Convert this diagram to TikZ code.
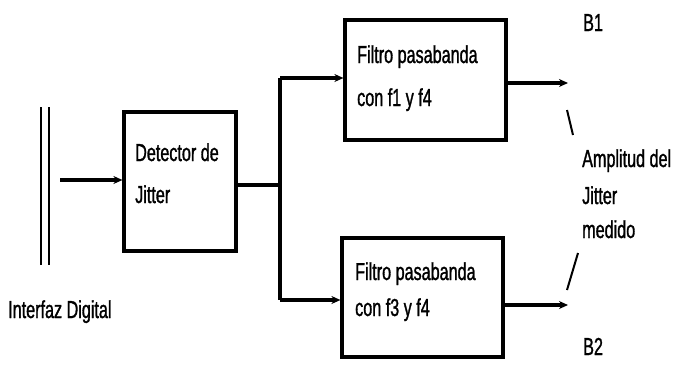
\documentclass[tikz,border=0pt]{standalone}
\usepackage{fontspec}
\setmainfont[FakeStretch=0.66,FakeBold=1.2]{Liberation Sans}
\usetikzlibrary{arrows.meta}
\begin{document}
\begin{tikzpicture}[x=1pt,y=-1pt,
  blk/.style={draw,line width=3.2pt,inner sep=0pt},
  wire/.style={line width=3.2pt},
  arr/.style={wire,-{Stealth[length=9pt,width=8pt]}},
  lbl/.style={anchor=base west,inner sep=0pt,font=\fontsize{24.5}{26}\selectfont},
  tick/.style={line width=2pt}]
\useasboundingbox (0,0) rectangle (673,368);
% interface double line
\draw[line width=2.4pt] (41,107) coordinate (ia) -- (41,265) coordinate (ib);
\draw[line width=1.8pt] (49,107) coordinate (ic) -- (49,265) coordinate (id);
\node[lbl] (iface) at (8,318) {Interfaz Digital};
% blocks
\node[blk,minimum width=112pt,minimum height=139pt] (det) at (180,181.5) {};
\node[blk,minimum width=161pt,minimum height=120pt] (f1) at (425.5,80) {};
\node[blk,minimum width=161pt,minimum height=119pt] (f2) at (422.5,297.5) {};
\node[lbl] (dt1) at (135,161) {Detector de};
\node[lbl] (dt2) at (135,203) {Jitter};
\node[lbl] (f1a) at (357,63) {Filtro pasabanda};
\node[lbl] (f1b) at (357,106) {con f1 y f4};
\node[lbl] (f2a) at (355,280) {Filtro pasabanda};
\node[lbl] (f2b) at (355,316) {con f3 y f4};
% input
\coordinate (in) at (60,180);
\draw[arr] (in) -- (in -| det.west);
% split
\coordinate (j) at (280,185);
\coordinate (jt) at (280,78);
\coordinate (jb) at (280,300);
\draw[wire] (j -| det.east) -- (j);
\draw[wire] (jt) -- (jb);
\draw[arr] (jt) -- (jt -| f1.west);
\draw[arr] (jb) -- (jb -| f2.west);
% outputs
\coordinate (o1) at (568,83);
\coordinate (o2) at (568,305);
\draw[arr] (o1 -| f1.east) -- (o1);
\draw[arr] (o2 -| f2.east) -- (o2);
\node[lbl] (b1) at (583,31) {B1};
\node[lbl] (b2) at (583,355) {B2};
\node[lbl] (am1) at (582,167) {Amplitud del};
\node[lbl] (am2) at (582,204) {Jitter};
\node[lbl] (am3) at (582,238) {medido};
\coordinate (t1a) at (567,110);
\coordinate (t1b) at (573,135);
\coordinate (t2a) at (578,253);
\coordinate (t2b) at (567,290);
\draw[tick] (t1a) -- (t1b);
\draw[tick] (t2a) -- (t2b);
\end{tikzpicture}
\end{document}
